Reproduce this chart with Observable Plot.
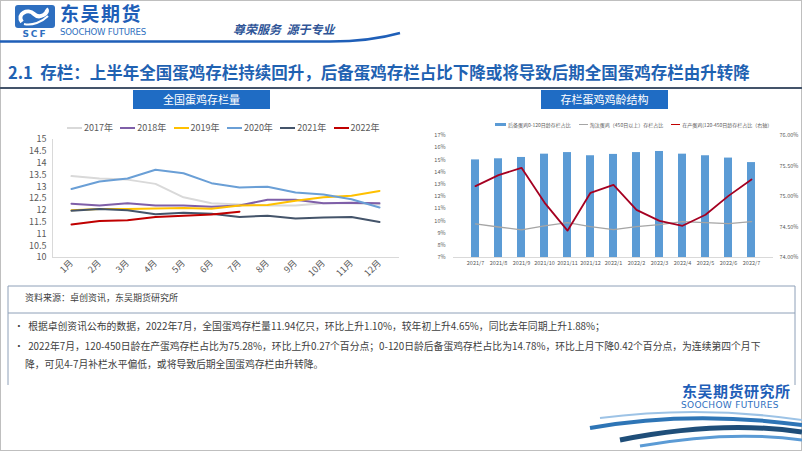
<!DOCTYPE html>
<html><head><meta charset="utf-8">
<script src="https://cdn.jsdelivr.net/npm/d3@7"></script>
<script src="https://cdn.jsdelivr.net/npm/@observablehq/plot@0.6"></script>
<style>
html,body{margin:0;padding:0;background:#fff;}
body{width:802px;height:451px;position:relative;overflow:hidden;font-family:"Noto Sans CJK SC","Noto Sans",sans-serif;}
.abs{position:absolute;line-height:1;}
.box{position:absolute;background:#1F6CC4;color:#fff;font-size:11px;text-align:center;line-height:19px;height:19px;}
.leg{position:absolute;font-size:9px;color:#595959;white-space:nowrap;display:flex;align-items:center;}
.leg i{display:inline-block;width:15px;height:2px;margin-right:2px;}
.leg2wrap{position:absolute;display:flex;gap:8px;font-size:5px;color:#595959;white-space:nowrap;}
.leg2wrap span{display:flex;align-items:center;}
.leg2wrap i{display:inline-block;margin-right:2px;}
.bul{position:absolute;font-size:9.8px;color:#404040;white-space:nowrap;line-height:1;}
</style></head><body>
<div id="page"></div>
<script>
// ---------- data ----------
const months = ["1月","2月","3月","4月","5月","6月","7月","8月","9月","10月","11月","12月"];
const years = ["2017年","2018年","2019年","2020年","2021年","2022年"];
const y2017 = [13.45,13.35,13.3,13.12,12.55,12.3,12.25,12.2,12.2,12.3,12.3,12.25];
const y2018 = [12.28,12.2,12.3,12.2,12.2,12.15,12.2,12.45,12.45,12.3,12.32,12.3];
const y2019 = [12.0,12.05,12.05,12.08,12.1,12.07,12.2,12.22,12.4,12.55,12.62,12.82];
const y2020 = [12.9,13.22,13.35,13.72,13.57,13.15,12.97,13.0,12.75,12.67,12.47,12.12];
const y2021 = [11.98,12.05,12.0,11.83,11.9,11.85,11.72,11.77,11.65,11.7,11.72,11.5];
const y2022 = [11.4,11.55,11.58,11.72,11.77,11.82,11.94];
const yearColors = ["#D9D9D9","#7F5FA8","#FFC000","#6A9FD6","#44546A","#C00000"];
const leftTicks = [10,10.5,11,11.5,12,12.5,13,13.5,14,14.5,15];

const periods = ["2021/7","2021/8","2021/9","2021/10","2021/11","2021/12","2022/1","2022/2","2022/3","2022/4","2022/5","2022/6","2022/7"];
const reserve = [15.0,15.09,15.2,15.47,15.6,15.34,15.45,15.6,15.69,15.47,15.34,15.15,14.78]; // 后备 0-120日龄 %
const culled  = [9.75,9.5,9.26,9.6,9.86,9.53,9.29,9.53,9.7,9.94,9.86,9.78,9.94];      // 淘汰 450日以上 %
const laying  = [75.17,75.35,75.47,74.9,74.44,75.06,75.19,74.78,74.6,74.52,74.7,75.01,75.28]; // 在产 右轴 %
const rightLeftTicks = [7,8,9,10,11,12,13,14,15,16,17];
const rightRightTicks = [74.0,74.5,75.0,75.5,76.0];
const seriesNames = ["后备蛋鸡0-120日龄存栏占比","淘汰蛋鸡（450日以上）存栏占比","在产蛋鸡(120-450日龄存栏占比（右轴）"];

const page = document.getElementById("page");
function add(html){ page.insertAdjacentHTML("beforeend", html); }

// ---------- decorations (header/footer) ----------
add(`<svg class="abs" style="left:0;top:0" width="802" height="451">
  <rect x="0.5" y="0.5" width="801" height="450" fill="none" stroke="#BFBFBF"/>
  <rect x="15" y="5" width="40" height="23" rx="3" fill="#2E6FC0"/>
  <path d="M22 22 C16 14, 28 8, 34 14 C40 20, 50 12, 46 9" fill="none" stroke="#fff" stroke-width="4"/>
  <path d="M24 24 C32 26, 42 22, 48 16" fill="none" stroke="#fff" stroke-width="2"/>
  <text x="35" y="37" font-family="DejaVu Sans" font-weight="bold" font-size="9" fill="#2E6FC0" text-anchor="middle" letter-spacing="2">SCF</text>
  <path d="M0 41.5 L330 41.5 Q370 41.5 400 33" fill="none" stroke="#1F5FB8" stroke-width="2.5"/>
  <line x1="0" y1="88" x2="802" y2="88" stroke="#44546A" stroke-width="2"/>
  <line x1="8" y1="286" x2="795" y2="286" stroke="#8EA0B8" stroke-width="1"/>
  <line x1="8" y1="313" x2="795" y2="313" stroke="#8EA0B8" stroke-width="1"/>
  <line x1="8" y1="286" x2="8" y2="385" stroke="#8EA0B8" stroke-width="1"/>
  <line x1="795" y1="286" x2="795" y2="385" stroke="#8EA0B8" stroke-width="1"/>
  <path d="M600 418 Q700 405 802 420" fill="none" stroke="#9DC3E6" stroke-width="2"/>
  <path d="M590 428 Q690 410 802 425" fill="none" stroke="#2E75B6" stroke-width="4"/>
  <path d="M620 440 Q720 420 802 432" fill="none" stroke="#1F4E79" stroke-width="5"/>
  <path d="M640 446 Q730 430 802 440" fill="none" stroke="#5B9BD5" stroke-width="3"/>
</svg>`);
add(`<div class="abs" style="left:60px;top:3px;font-size:19px;font-weight:bold;color:#1F5FB8;letter-spacing:1.5px">东吴期货</div>`);
add(`<div class="abs" style="left:60px;top:28px;font-size:8.6px;color:#2E6FC0;font-family:'DejaVu Sans';letter-spacing:-0.2px">SOOCHOW FUTURES</div>`);
add(`<div class="abs" style="left:233px;top:23px;font-size:12px;font-weight:bold;font-style:italic;color:#2F5597">尊荣服务&nbsp;&nbsp;源于专业</div>`);
add(`<div class="abs" style="left:8px;top:64px;font-size:16.5px;font-weight:bold;color:#1F62B2;white-space:nowrap">2.1&nbsp;&nbsp;存栏：上半年全国蛋鸡存栏持续回升，后备蛋鸡存栏占比下降或将导致后期全国蛋鸡存栏由升转降</div>`);
add(`<div class="box" style="left:133px;top:90px;width:137px">全国蛋鸡存栏量</div>`);
add(`<div class="box" style="left:541px;top:90px;width:127px">存栏蛋鸡鸡龄结构</div>`);
add(`<div class="abs" style="left:25px;top:293px;font-size:9px;color:#404040">资料来源：卓创资讯，东吴期货研究所</div>`);
add(`<div class="bul" style="left:14px;top:322px">•&nbsp;&nbsp;根据卓创资讯公布的数据，2022年7月，全国蛋鸡存栏量11.94亿只，环比上升1.10%，较年初上升4.65%，同比去年同期上升1.88%；</div>`);
add(`<div class="bul" style="left:14px;top:342px">•&nbsp;&nbsp;2022年7月，120-450日龄在产蛋鸡存栏占比为75.28%，环比上升0.27个百分点；0-120日龄后备蛋鸡存栏占比为14.78%，环比上月下降0.42个百分点，为连续第四个月下</div>`);
add(`<div class="bul" style="left:25px;top:360px">降，可见4-7月补栏水平偏低，或将导致后期全国蛋鸡存栏由升转降。</div>`);
add(`<div class="abs" style="left:682px;top:383px;font-size:15px;font-weight:bold;color:#1F5FB8;letter-spacing:0.5px">东吴期货研究所</div>`);
add(`<div class="abs" style="left:681px;top:401px;font-size:9px;color:#2E6FC0;font-family:'DejaVu Sans';letter-spacing:0.3px">SOOCHOW FUTURES</div>`);

// ---------- left chart legend ----------
years.forEach((y,i)=>{
  add(`<div class="leg" style="left:${67+i*53.3}px;top:121px"><i style="background:${yearColors[i]}"></i>${y}</div>`);
});
// ---------- right chart legend ----------
add(`<div class="leg2wrap" style="left:495px;top:121px">
  <span><i style="width:11px;height:3px;background:#5B9BD5"></i>${seriesNames[0]}</span>
  <span><i style="width:9px;height:1px;background:#A5A5A5"></i>${seriesNames[1]}</span>
  <span><i style="width:9px;height:1.5px;background:#C00000"></i>${seriesNames[2]}</span>
</div>`);

// ---------- left chart ----------
const allYears = [y2017,y2018,y2019,y2020,y2021,y2022];
const lineData = allYears.flatMap((arr,k)=>arr.map((v,i)=>({year:years[k], month:months[i], v})));
const left = Plot.plot({
  width: 400, height: 154,
  marginLeft: 42, marginRight: 12, marginTop: 8, marginBottom: 28,
  style: {fontFamily:"'Noto Sans CJK SC','Noto Sans',sans-serif", fontSize:"9px", color:"#595959", background:"transparent"},
  x: {type:"point", domain: months, padding: 0.5, label: null},
  y: {domain:[10,15], label: null},
  color: {domain: years, range: yearColors},
  marks: [
    Plot.frame({anchor:"left", stroke:"#D9D9D9"}),
    Plot.frame({anchor:"bottom", stroke:"#D9D9D9"}),
    Plot.axisY(leftTicks, {tickSize:0, tickPadding:6, tickFormat: d=>String(d), fill:"#595959"}),
    Plot.axisX({tickSize:0, tickRotate:-45, tickPadding:4, fill:"#595959"}),
    Plot.line(lineData, {x:"month", y:"v", z:"year", stroke:"year", strokeWidth:2, curve:"linear"})
  ]
});
left.style.position="absolute"; left.style.left="10px"; left.style.top="131px";
page.appendChild(left);

// ---------- right chart ----------
const toLeft = v => 7 + (v-74)*5;
const barData = periods.map((p,i)=>({p, reserve:reserve[i], culled:culled[i], layingL:toLeft(laying[i])}));
const right = Plot.plot({
  width: 382, height: 142,
  marginLeft: 33, marginRight: 29, marginTop: 7, marginBottom: 13,
  style: {fontFamily:"'Noto Sans CJK SC','Noto Sans',sans-serif", fontSize:"5.5px", color:"#595959", background:"transparent"},
  x: {type:"band", domain: periods, padding: 0.67, label: null},
  y: {domain:[7,17], label: null},
  marks: [
    Plot.ruleY([7], {stroke:"#D9D9D9"}),
    Plot.barY(barData, {x:"p", y1:7, y2:"reserve", fill:"#5B9BD5"}),
    Plot.line(barData, {x:"p", y:"culled", stroke:"#A5A5A5", strokeWidth:1.3}),
    Plot.line(barData, {x:"p", y:"layingL", stroke:"#A50021", strokeWidth:1.8}),
    Plot.axisY(rightLeftTicks, {anchor:"left", tickSize:0, tickPadding:8, tickFormat: d=>d+"%"}),
    Plot.axisY(rightRightTicks.map(toLeft), {anchor:"right", tickSize:0, tickPadding:6, tickFormat: d=>((d-7)/5+74).toFixed(2)+"%"}),
    Plot.axisX({tickSize:0, tickPadding:4})
  ]
});
right.style.position="absolute"; right.style.left="420px"; right.style.top="128px";
page.appendChild(right);
</script>
</body></html>
